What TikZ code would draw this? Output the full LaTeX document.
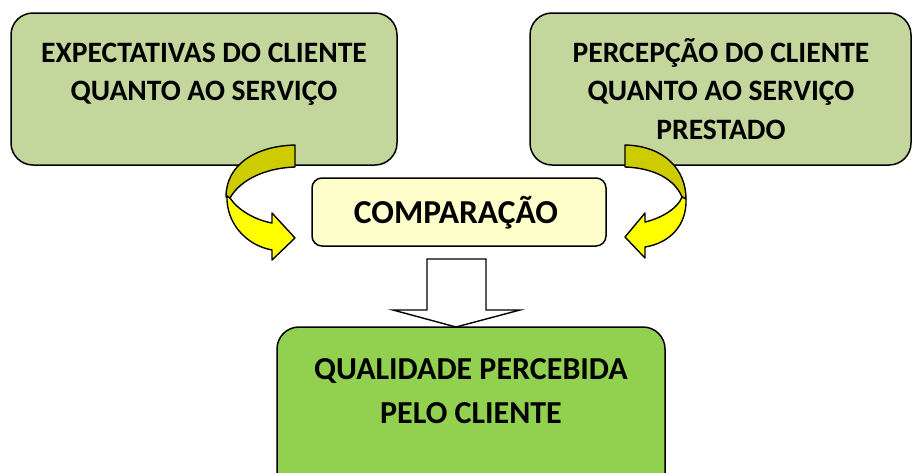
\documentclass[tikz,border=0pt]{standalone}
\usepackage{fontspec}
\setmainfont{Carlito}
\definecolor{boxgreen}{HTML}{C3D69B}
\definecolor{qualgreen}{HTML}{92D050}
\definecolor{compyellow}{HTML}{FFFFCC}
\definecolor{arrowdark}{HTML}{CCCC00}
\definecolor{arrowlight}{HTML}{FFFF00}
\tikzset{
  bigbox/.style={draw=black, line width=1.5pt, rounded corners=22pt, inner sep=0pt},
  smallbox/.style={draw=black, line width=1.5pt, rounded corners=10pt, fill=compyellow, inner sep=0pt},
  boxtext/.style={anchor=base, inner sep=0pt, font=\bfseries\fontsize{29.6}{38}\selectfont},
  bigtext/.style={anchor=base, inner sep=0pt, font=\bfseries\fontsize{32}{44}\selectfont},
  comptextstyle/.style={anchor=base, inner sep=0pt, font=\bfseries\fontsize{33.5}{44}\selectfont},
  arrowshape/.style={draw=black, line width=1.4pt, line join=round},
}
\begin{document}
\begin{tikzpicture}[x=1pt,y=-1pt]
\useasboundingbox (0,0) rectangle (913,472);
\clip (0,0) rectangle (913,472);
% boxes
\node[bigbox, fill=boxgreen, minimum width=386pt, minimum height=152pt] (expect) at (204,89) {};
\node[bigbox, fill=boxgreen, minimum width=381pt, minimum height=152pt] (percep) at (720.5,89) {};
\node[smallbox, minimum width=294pt, minimum height=68pt] (comp) at (459,212) {};
\node[bigbox, fill=qualgreen, minimum width=388pt, minimum height=180pt] (qual) at (471,417) {};
% texts
\node[boxtext] (expecta) at (204,62) {EXPECTATIVAS DO CLIENTE};
\node[boxtext] (expectb) at (204,100) {QUANTO AO SERVIÇO};
\node[boxtext] (percepa) at (721,62) {PERCEPÇÃO DO CLIENTE};
\node[boxtext] (percepb) at (721,100) {QUANTO AO SERVIÇO};
\node[boxtext] (percepc) at (721,139) {PRESTADO};
\node[comptextstyle] (comptext) at (456,223) {COMPARAÇÃO};
\node[bigtext] (quala) at (471,379) {QUALIDADE PERCEBIDA};
\node[bigtext] (qualb) at (471,423) {PELO CLIENTE};
% left curved arrow
\filldraw[arrowshape, fill=arrowdark] (295,145) .. controls (255,146) and (226,165) .. (226,197)
  -- (230,198) .. controls (240,180) and (265,168) .. (295,167) -- cycle;
\filldraw[arrowshape, fill=arrowlight] (227,196) .. controls (226,222) and (245,245) .. (272,250)
  -- (272,260) -- (295,238) -- (272,213) -- (272,223)
  .. controls (255,220) and (238,210) .. (230,198) -- cycle;
% right curved arrow
\filldraw[arrowshape, fill=arrowdark] (625,145) .. controls (665,146) and (686,170) .. (686,199)
  -- (682,197) .. controls (675,180) and (655,168) .. (625,167) -- cycle;
\filldraw[arrowshape, fill=arrowlight] (686,199) .. controls (687,225) and (670,243) .. (645,247)
  -- (645,258) -- (625,237) -- (645,213) -- (645,222)
  .. controls (662,218) and (678,208) .. (682,197) -- cycle;
% down block arrow
\filldraw[arrowshape, fill=white, line join=miter] (427,259) -- (486,259) -- (486,310) -- (520,310)
  -- (456,327) -- (393,310) -- (427,310) -- cycle;
\end{tikzpicture}
\end{document}
